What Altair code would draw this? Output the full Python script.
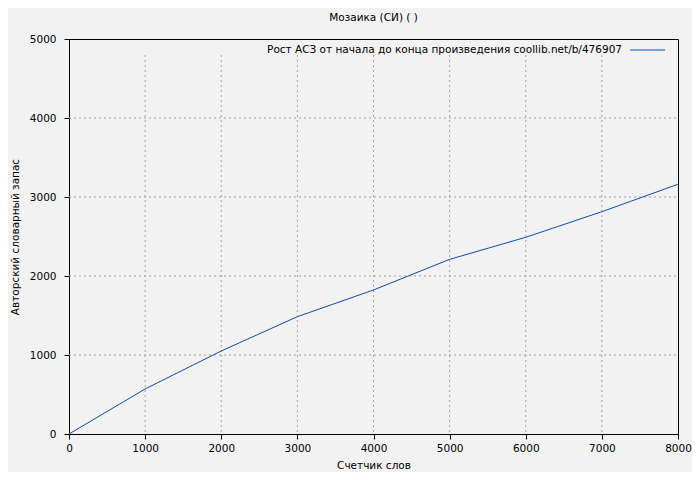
import altair as alt
import pandas as pd

# Data
words = [0, 1000, 2000, 3000, 4000, 5000, 6000, 7000, 8000]
vocab = [0, 570, 1051, 1485, 1823, 2211, 2490, 2814, 3161]
x_grid = [1000, 2000, 3000, 4000, 5000, 6000, 7000]
y_grid = [1000, 2000, 3000, 4000]
y_ticks = [0, 1000, 2000, 3000, 4000, 5000]
title_text = "Мозаика (СИ) ( )"
legend_text = "Рост АСЗ от начала до конца произведения  coollib.net/b/476907"
x_title = "Счетчик слов"
y_title = "Авторский словарный запас"

W, H = 609, 395
FONT = "DejaVu Sans"
LINE_COLOR = "#0a4bbd"
GRID_COLOR = "#a0a0a0"

df = pd.DataFrame({"x": words, "y": vocab})
dgx = pd.DataFrame({"g": x_grid})
dgy = pd.DataFrame({"g": y_grid})
dleg = pd.DataFrame({"t": [legend_text]})

xscale = alt.Scale(domain=[0, 8000], nice=False)
yscale = alt.Scale(domain=[0, 5000], nice=False)

xaxis = alt.Axis(values=words, format="d", grid=False, tickSize=5,
                 tickColor="black", domainColor="black", labelFont=FONT,
                 labelFontSize=10.5, labelColor="black", labelPadding=4,
                 title=x_title, titleFont=FONT, titleFontSize=10.5,
                 titleFontWeight="normal", titleColor="black",
                 titlePadding=7, labelFlush=False)
yaxis = alt.Axis(values=y_ticks, format="d", grid=False,
                 tickSize=5, tickColor="black", domainColor="black",
                 labelFont=FONT, labelFontSize=10.5, labelColor="black",
                 labelPadding=8, title=y_title, titleFont=FONT,
                 titleFontSize=10.5, titleFontWeight="normal",
                 titleColor="black", titleAngle=270, titleAlign="center",
                 titleBaseline="middle", titleX=-54, titleY=H / 2,
                 labelFlush=False)

vgrid = alt.Chart(dgx).mark_rule(color=GRID_COLOR, strokeDash=[2, 3],
                                 strokeWidth=1).encode(
    x=alt.X("g:Q", scale=xscale, axis=xaxis),
    y=alt.value(16), y2=alt.value(H))
hgrid = alt.Chart(dgy).mark_rule(color=GRID_COLOR, strokeDash=[2, 3],
                                 strokeWidth=1).encode(
    y=alt.Y("g:Q", scale=yscale, axis=yaxis),
    x=alt.value(0), x2=alt.value(W))

line = alt.Chart(df).mark_line(color=LINE_COLOR, strokeWidth=1).encode(
    x=alt.X("x:Q", scale=xscale, axis=xaxis),
    y=alt.Y("y:Q", scale=yscale, axis=yaxis))

leg_text = alt.Chart(dleg).mark_text(align="right", baseline="middle",
                                     font=FONT, fontSize=10.5,
                                     color="black").encode(
    text="t:N", x=alt.value(553), y=alt.value(11))
leg_line = alt.Chart(dleg).mark_rule(color=LINE_COLOR, strokeWidth=1).encode(
    x=alt.value(561), x2=alt.value(596), y=alt.value(11))

chart = alt.layer(vgrid, hgrid, line, leg_text, leg_line).properties(
    width=W, height=H,
    title=alt.TitleParams(title_text, font=FONT, fontSize=10.5,
                          fontWeight="normal", color="black", anchor="middle",
                          offset=11),
    background="#f2f2f2",
    padding={"left": 61, "top": 31, "right": 14, "bottom": 38},
    autosize=alt.AutoSizeParams(type="none"),
).configure_view(stroke="black", strokeWidth=1)

chart.save("out.html", embed_options={"renderer": "svg", "actions": False})
